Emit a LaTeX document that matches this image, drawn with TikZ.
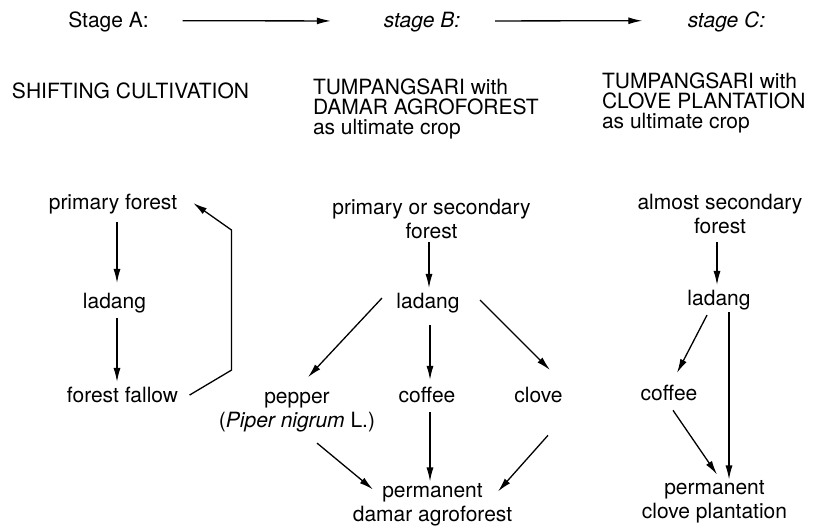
\documentclass[tikz,border=0pt]{standalone}
\usepackage{fontspec}
\setmainfont{TeX Gyre Heros}
\usetikzlibrary{arrows.meta}
\begin{document}
\begin{tikzpicture}[x=1pt,y=-1pt,
  txt/.style={inner sep=0pt,outer sep=0pt,font=\fontsize{21}{23.5}\selectfont,align=center,anchor=base},
  head/.style={inner sep=0pt,outer sep=0pt,font=\fontsize{21}{20}\selectfont,align=left,anchor=base west},
  arr/.style={-{Latex[length=14pt,width=7pt]},line width=1.3pt},
  plain/.style={line width=1.3pt}]
\useasboundingbox[fill=white] (0,0) rectangle (826,527);
% stage labels
\node[txt] (sA) at (108.5,28) {Stage A:};
\node[txt] (sB) at (422,28) {\itshape stage B:};
\node[txt] (sC) at (726.5,28) {\itshape stage C:};
\draw[arr] ([shift={(34,-1.7)}]sA.east) -- ([shift={(-53,-1.7)}]sB.west);
\draw[arr] ([shift={(35,-1.7)}]sB.east) -- ([shift={(-45.5,-1.7)}]sC.west);
% headings (base = last line)
\node[head] (hA) at (12,98) {SHIFTING CULTIVATION};
\node[head] (hB) at (313,134) {TUMPANGSARI with\\DAMAR AGROFOREST\\as ultimate crop};
\node[head] (hC) at (602,128) {TUMPANGSARI with\\CLOVE PLANTATION\\as ultimate crop};
% left column
\node[txt] (pf) at (113,209) {primary forest};
\node[txt] (ld1) at (114.5,308) {ladang};
\node[txt] (ff) at (122.5,402) {forest fallow};
\draw[arr] ([shift={(4,8.6)}]pf.south) -- ([shift={(2.5,-9.7)}]ld1.north);
\draw[arr] ([shift={(2.5,5.6)}]ld1.south) -- ([shift={(-5.5,-4.7)}]ff.north);
\draw[arr] ([shift={(11.5,0.6)}]ff.east) -- ++(42,-25) -- ++(0,-140) -- ([shift={(16,-0.6)}]pf.east);
% middle column
\node[txt] (ps) at (431.5,238) {primary or secondary\\forest};
\node[txt] (ld2) at (428,308) {ladang};
\node[txt] (pp) at (297,427) {pepper\\(\textit{Piper nigrum} L.)};
\node[txt] (cf) at (427,402) {coffee};
\node[txt] (cl) at (538.5,402) {clove};
\node[txt] (pd) at (432.5,521) {permanent\\damar agroforest};
\draw[arr] ([shift={(-2.5,4)}]ps.south) -- ([shift={(1,-4.7)}]ld2.north);
\draw[arr] ([shift={(-14.5,-4.6)}]ld2.west) -- ([shift={(11,-15)}]pp.north);
\draw[arr] ([shift={(2,12.6)}]ld2.south) -- ([shift={(3,-6.7)}]cf.north);
\draw[arr] ([shift={(20.5,-2.6)}]ld2.east) -- ([shift={(11.5,-16.7)}]cl.north);
\draw[arr] ([shift={(20,11.5)}]pp.south) -- ([shift={(-59.5,6)}]pd.north);
\draw[arr] ([shift={(3,10)}]cf.south) -- ([shift={(-2.5,-2)}]pd.north);
\draw[arr] ([shift={(9.5,33)}]cl.south) -- ([shift={(65.5,8)}]pd.north);
% right column
\node[txt] (as) at (720,233) {almost secondary\\forest};
\node[txt] (ld3) at (719,305) {ladang};
\node[txt] (cf3) at (669,400) {coffee};
\node[txt] (pc) at (714.5,518) {permanent\\clove plantation};
\draw[arr] ([shift={(-3,9)}]as.south) -- ([shift={(-2,-4.7)}]ld3.north);
\draw[arr] ([shift={(-12,5.5)}]ld3.south) -- ([shift={(8,-11.7)}]cf3.north);
\draw[arr] ([shift={(10,2.5)}]ld3.south) -- ([shift={(14.5,-1)}]pc.north);
\draw[arr] ([shift={(4,10)}]cf3.south) -- ([shift={(2.5,-6)}]pc.north);
\end{tikzpicture}
\end{document}
